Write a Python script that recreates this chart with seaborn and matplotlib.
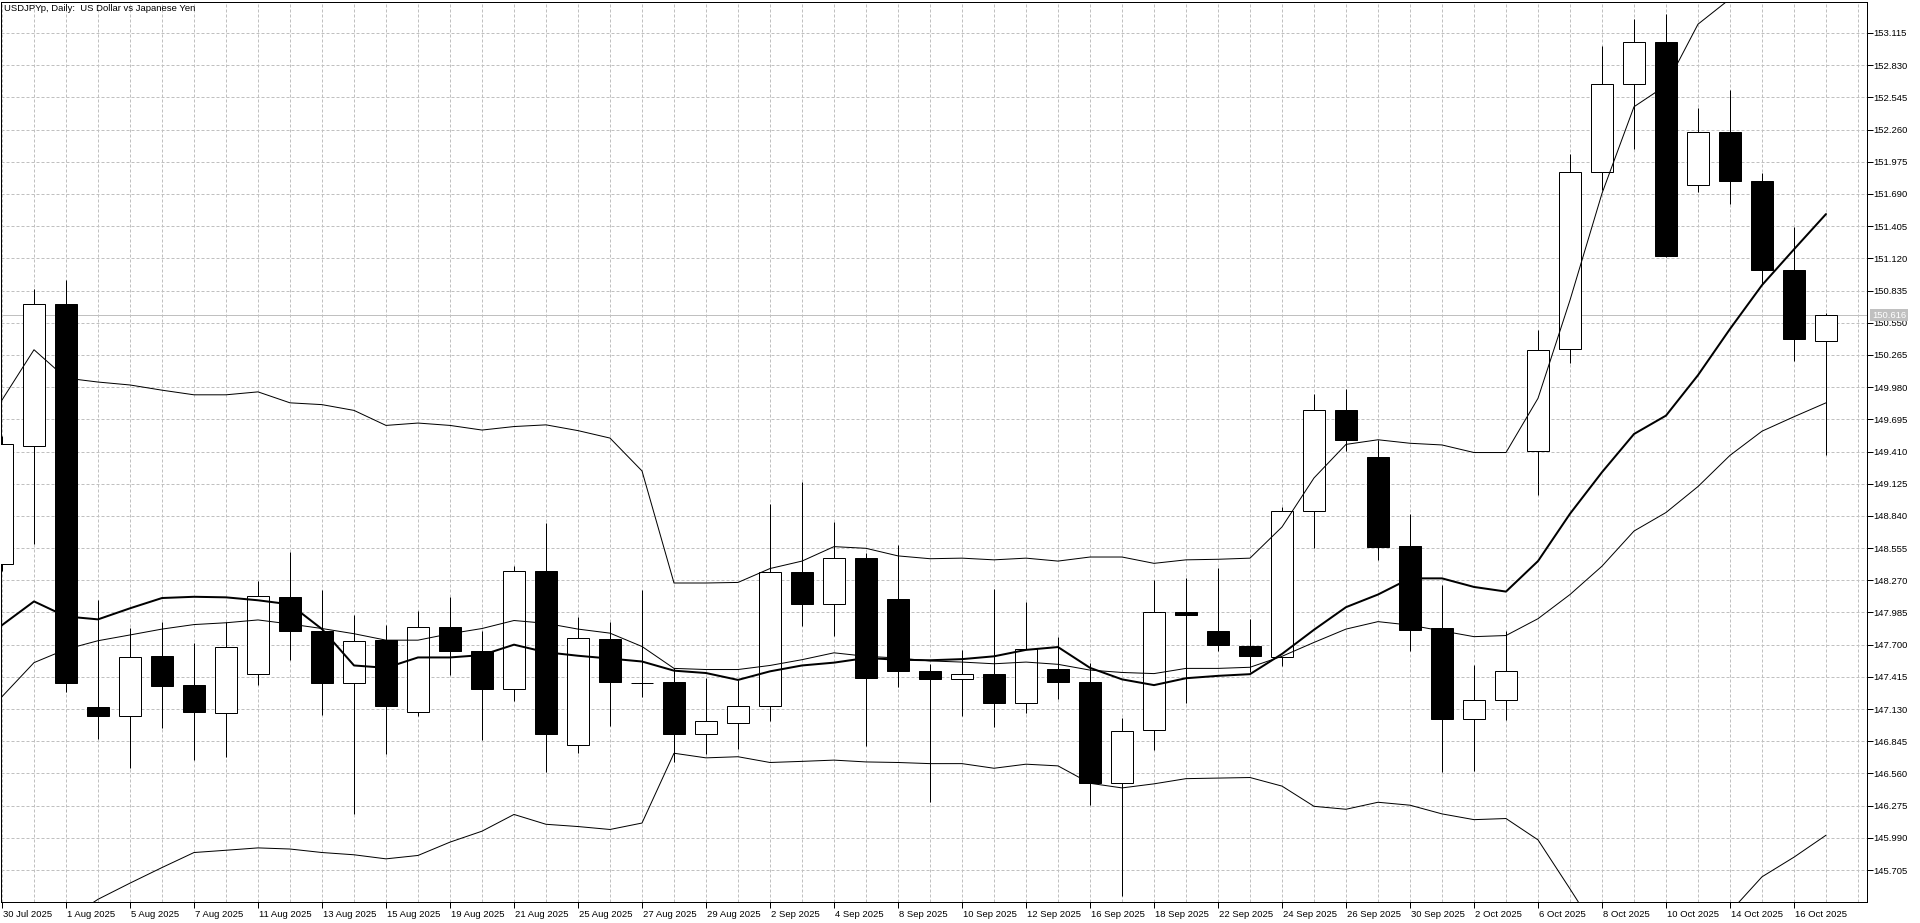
import matplotlib
matplotlib.use("Agg")
import matplotlib.pyplot as plt
import matplotlib.transforms as mtransforms
import numpy as np
import pandas as pd
import seaborn as sns

# ---------------- data ----------------
title_text = "USDJPYp, Daily:  US Dollar vs Japanese Yen"

dates = [
    "30 Jul 2025", "31 Jul 2025",
    "1 Aug 2025", "4 Aug 2025", "5 Aug 2025", "6 Aug 2025", "7 Aug 2025", "8 Aug 2025",
    "11 Aug 2025", "12 Aug 2025", "13 Aug 2025", "14 Aug 2025", "15 Aug 2025",
    "18 Aug 2025", "19 Aug 2025", "20 Aug 2025", "21 Aug 2025", "22 Aug 2025",
    "25 Aug 2025", "26 Aug 2025", "27 Aug 2025", "28 Aug 2025", "29 Aug 2025",
    "1 Sep 2025", "2 Sep 2025", "3 Sep 2025", "4 Sep 2025", "5 Sep 2025",
    "8 Sep 2025", "9 Sep 2025", "10 Sep 2025", "11 Sep 2025", "12 Sep 2025",
    "15 Sep 2025", "16 Sep 2025", "17 Sep 2025", "18 Sep 2025", "19 Sep 2025",
    "22 Sep 2025", "23 Sep 2025", "24 Sep 2025", "25 Sep 2025", "26 Sep 2025",
    "29 Sep 2025", "30 Sep 2025",
    "1 Oct 2025", "2 Oct 2025", "3 Oct 2025",
    "6 Oct 2025", "7 Oct 2025", "8 Oct 2025", "9 Oct 2025", "10 Oct 2025",
    "13 Oct 2025", "14 Oct 2025", "15 Oct 2025", "16 Oct 2025", "17 Oct 2025",
]

opens = [148.415, 149.463, 150.714, 147.148, 147.066, 147.597, 147.342, 147.092,
         147.439, 148.124, 147.822, 147.357, 147.740, 147.107, 147.858, 147.648,
         147.311, 148.354, 146.810, 147.750, 147.365, 147.367, 146.907, 147.010,
         147.158, 148.339, 148.057, 148.471, 148.108, 147.465, 147.393, 147.439,
         147.188, 147.485, 147.367, 146.478, 146.943, 147.985, 147.822, 147.689,
         147.593, 148.885, 149.774, 149.365, 148.573, 147.848, 147.046, 147.214,
         149.417, 150.321, 151.885, 152.661, 153.034, 151.772, 152.242, 151.808,
         151.021, 150.392]
highs = [149.550, 150.852, 150.924, 148.093, 147.848, 147.899, 147.715, 147.904,
         148.262, 148.522, 148.180, 147.960, 147.873, 148.001, 148.124, 147.822,
         148.400, 148.778, 147.945, 147.899, 148.185, 147.495, 147.408, 147.388,
         148.946, 149.141, 148.783, 148.512, 148.584, 147.531, 147.654, 148.195,
         148.078, 147.771, 147.541, 147.051, 148.272, 148.293, 148.379, 147.929,
         148.921, 149.922, 149.963, 149.509, 148.859, 148.226, 147.521, 147.817,
         150.484, 152.048, 153.004, 153.239, 153.280, 152.452, 152.610, 151.879,
         151.399, 150.636]
lows = [148.350, 148.589, 147.285, 146.861, 146.611, 146.959, 146.683, 146.707,
        147.347, 147.567, 147.081, 146.202, 146.728, 147.066, 147.434, 146.856,
        147.204, 146.570, 146.738, 146.984, 147.234, 146.657, 146.728, 146.780,
        147.025, 147.869, 147.781, 146.800, 147.327, 146.305, 147.066, 146.974,
        147.091, 147.219, 146.279, 145.477, 146.764, 147.188, 147.643, 147.454,
        147.510, 148.553, 149.411, 148.450, 147.643, 146.570, 146.585, 147.035,
        149.023, 150.193, 151.721, 152.089, 151.130, 151.706, 151.599, 150.893,
        150.208, 149.375]
closes = [149.473, 150.714, 147.357, 147.066, 147.592, 147.337, 147.102, 147.679,
          148.129, 147.817, 147.357, 147.735, 147.153, 147.858, 147.648, 147.311,
          148.354, 146.912, 147.761, 147.373, 147.360, 146.907, 147.025, 147.158,
          148.344, 148.057, 148.471, 147.403, 147.465, 147.393, 147.439, 147.188,
          147.659, 147.373, 146.478, 146.938, 147.985, 147.965, 147.699, 147.603,
          148.880, 149.774, 149.509, 148.568, 147.832, 147.046, 147.214, 147.470,
          150.311, 151.885, 152.661, 153.034, 151.144, 152.242, 151.808, 151.021,
          150.403, 150.616]

bb_upper = [149.866, 150.311, 150.060, 150.025, 149.999, 149.953, 149.912, 149.912,
            149.938, 149.841, 149.825, 149.774, 149.641, 149.662, 149.641, 149.600,
            149.631, 149.646, 149.595, 149.529, 149.238, 148.246, 148.246, 148.251,
            148.374, 148.440, 148.568, 148.553, 148.486, 148.461, 148.466, 148.451,
            148.466, 148.440, 148.476, 148.476, 148.420, 148.451, 148.456, 148.466,
            148.742, 149.176, 149.473, 149.514, 149.483, 149.468, 149.401, 149.401,
            149.881, 150.750, 151.695, 152.462, 152.651, 153.193, 153.417, 153.525,
            153.607, 153.668]
bb_middle = [147.240, 147.541, 147.659, 147.735, 147.786, 147.838, 147.878, 147.894,
             147.919, 147.883, 147.843, 147.797, 147.740, 147.740, 147.797, 147.843,
             147.914, 147.889, 147.838, 147.802, 147.684, 147.490, 147.480, 147.480,
             147.516, 147.567, 147.628, 147.597, 147.582, 147.556, 147.546, 147.531,
             147.546, 147.526, 147.475, 147.454, 147.444, 147.490, 147.490, 147.500,
             147.597, 147.720, 147.838, 147.904, 147.873, 147.822, 147.771, 147.781,
             147.930, 148.144, 148.395, 148.706, 148.870, 149.100, 149.376, 149.590,
             149.718, 149.841]
bb_lower = [144.613, 144.772, 145.257, 145.446, 145.589, 145.727, 145.860, 145.880,
            145.901, 145.891, 145.860, 145.840, 145.804, 145.834, 145.952, 146.049,
            146.197, 146.110, 146.090, 146.064, 146.121, 146.739, 146.698, 146.708,
            146.657, 146.667, 146.678, 146.662, 146.657, 146.647, 146.647, 146.606,
            146.642, 146.627, 146.473, 146.432, 146.468, 146.514, 146.519, 146.524,
            146.448, 146.269, 146.243, 146.305, 146.279, 146.202, 146.151, 146.161,
            145.972, 145.538, 145.094, 144.950, 145.088, 145.007, 145.334, 145.645,
            145.819, 146.013]
ma_line = [147.873, 148.083, 147.950, 147.924, 148.022, 148.113, 148.124, 148.119,
           148.093, 148.057, 147.838, 147.516, 147.495, 147.587, 147.587, 147.608,
           147.700, 147.633, 147.602, 147.577, 147.551, 147.470, 147.449, 147.388,
           147.464, 147.516, 147.541, 147.582, 147.567, 147.562, 147.572, 147.597,
           147.654, 147.679, 147.495, 147.393, 147.342, 147.403, 147.424, 147.439,
           147.618, 147.832, 148.032, 148.144, 148.287, 148.287, 148.211, 148.170,
           148.440, 148.859, 149.227, 149.565, 149.728, 150.086, 150.495, 150.883,
           151.200, 151.512]

price_ticks = [153.115, 152.830, 152.545, 152.260, 151.975, 151.690, 151.405,
               151.120, 150.835, 150.550, 150.265, 149.980, 149.695, 149.410,
               149.125, 148.840, 148.555, 148.270, 147.985, 147.700, 147.415,
               147.130, 146.845, 146.560, 146.275, 145.990, 145.705]
last_price = 150.616

# ---------------- style ----------------
sns.set_theme(style="white")
plt.rcParams['font.family'] = ['Liberation Sans', 'DejaVu Sans']
plt.rcParams['font.size'] = 6.8

PX = 0.72          # one pixel in points at dpi 100
FS = 6.8
GRID = '#c0c0c0'

fig = plt.figure(figsize=(19.2, 9.23), dpi=100, facecolor='white')
ax = fig.add_axes([1 / 1920, 21 / 923, 1866 / 1920, 900 / 923])
ax.set_facecolor('white')

n = len(dates)
idx = np.arange(n)
df = pd.DataFrame({
    'i': idx, 'date': dates, 'open': opens, 'high': highs, 'low': lows,
    'close': closes, 'upper': bb_upper, 'middle': bb_middle,
    'lower': bb_lower, 'ma': ma_line,
})

# grid
for p in price_ticks:
    ax.axhline(p, color=GRID, lw=PX, ls=(0, (3, 2)), zorder=0)
for k in range(n + 1):
    ax.axvline(k, color=GRID, lw=PX, ls=(0, (3, 2)), zorder=0)

# last price line
ax.axhline(last_price, color=GRID, lw=PX, zorder=1)

# candles
ax.vlines(df['i'], df['low'], df['high'], color='black', lw=PX, zorder=2)
bottoms = np.minimum(df['open'], df['close'])
heights = np.maximum(np.abs(df['close'] - df['open']), 0.003)
colors = ['white' if c >= o else 'black' for o, c in zip(df['open'], df['close'])]
ax.bar(df['i'], heights, bottom=bottoms, width=0.69, color=colors,
       edgecolor='black', linewidth=PX, zorder=3)

# indicator lines (seaborn)
for col, w in [('upper', PX), ('middle', PX), ('lower', PX), ('ma', 2 * PX)]:
    sns.lineplot(data=df, x='i', y=col, ax=ax, color='black', lw=w,
                 zorder=4, legend=False)
ax.set_xlabel('')
ax.set_ylabel('')

# axes limits
ax.set_xlim(-1 / 32, 58.28125)
ax.set_ylim(145.422, 153.3894)

# ticks
ax.yaxis.tick_right()
ax.set_yticks(price_ticks, [f"{p:.3f}" for p in price_ticks])
ax.set_xticks(idx[::2], [dates[k] for k in range(0, n, 2)])
ax.tick_params(axis='y', which='major', direction='out', length=4, width=PX,
               pad=0.8, colors='black', labelsize=FS, right=True, left=False,
               labelright=True, labelleft=False)
ax.tick_params(axis='x', which='major', direction='out', length=4, width=PX,
               pad=1.5, colors='black', labelsize=FS, bottom=True)
shift = mtransforms.ScaledTranslation(1 / 100, 0, fig.dpi_scale_trans)
for lbl in ax.get_xticklabels():
    lbl.set_horizontalalignment('left')
    lbl.set_transform(lbl.get_transform() + shift)

for s in ax.spines.values():
    s.set_color('black')
    s.set_linewidth(PX)
    s.set_visible(True)

# current price tag
tag_tr = mtransforms.blended_transform_factory(ax.transAxes, ax.transData) + \
    mtransforms.ScaledTranslation(5 / 100, 0, fig.dpi_scale_trans)
ax.text(1.0, last_price, f"{last_price:.3f}", transform=tag_tr, ha='left',
        va='center', color='white', fontsize=FS, clip_on=False, zorder=10,
        bbox=dict(facecolor='#c0c0c0', edgecolor='none', pad=1.2))

# title
fig.text(4 / 1920, 1 - 4 / 923, title_text, ha='left', va='top',
         fontsize=FS, color='black')

fig.savefig('out.png', dpi=100, facecolor='white')
